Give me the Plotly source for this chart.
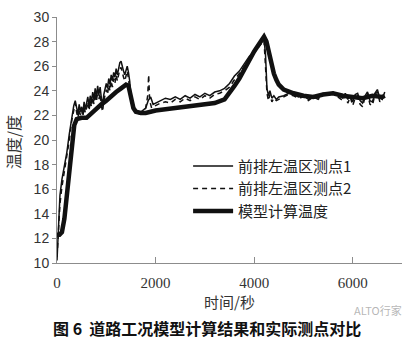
import plotly.graph_objects as go

# Measured point 1 (thin solid)
t_p1 = [0, 30, 60, 100, 150, 200, 250, 300, 340, 370,
        400, 425, 450, 475, 500, 525, 550, 575, 600, 625, 650, 675, 700, 725, 750, 775,
        800, 825, 850, 875, 900, 925, 950, 975, 1000, 1025, 1050, 1075, 1100, 1125, 1150,
        1175, 1200, 1225, 1250, 1275, 1300, 1325, 1350, 1375, 1400, 1425, 1450, 1475,
        1500, 1540, 1580, 1620, 1680, 1750, 1800, 1850, 1900, 1950, 2000, 2100, 2200,
        2300, 2400, 2500, 2600, 2700, 2800, 2900, 3000, 3100, 3200, 3300, 3400, 3500,
        3600, 3700, 3800, 3900, 4000, 4100, 4150, 4200, 4230, 4260, 4290, 4320, 4360,
        4400, 4450, 4500, 4600, 4700, 4800, 4900, 5000, 5100, 5200, 5300, 5400, 5500,
        5600, 5700, 5800, 5850, 5900, 5950, 6000, 6050, 6100, 6150, 6200, 6250, 6300,
        6350, 6400, 6450, 6500, 6550, 6600, 6650]
v_p1 = [10.2, 13.5, 15.5, 16.8, 17.8, 19.0, 20.5, 22.0, 22.8, 23.2,
        22.6, 22.1, 22.9, 22.3, 22.7, 22.2, 23.1, 22.5, 23.0, 23.5, 22.8, 23.6, 23.1, 23.9,
        23.3, 24.2, 23.5, 24.4, 23.7, 24.3, 23.4, 22.9, 23.7, 24.1, 24.6, 24.2, 25.0, 24.5,
        25.3, 24.8, 25.5, 25.1, 25.8, 25.3, 26.0, 26.3, 26.4, 25.9, 25.6, 25.3, 25.8, 26.0,
        25.5, 24.8, 23.6, 22.8, 22.5, 22.3, 22.2, 22.4, 22.6, 23.2, 23.5, 22.9, 23.0,
        23.2, 23.4, 23.3, 23.5, 23.3, 23.6, 23.4, 23.7, 23.5, 23.8, 23.6, 23.9, 24.0,
        24.2, 24.6, 25.2, 25.6, 26.2, 26.8, 27.2, 27.7, 28.0, 28.2, 27.0, 24.2, 23.6,
        24.0, 23.4, 23.6, 23.3, 23.5, 23.6, 23.8, 23.7, 23.5, 23.6, 23.3, 23.6, 23.4,
        23.8, 23.7, 23.9, 23.6, 23.4, 23.8, 23.3, 23.6, 23.1, 23.7, 23.8, 23.2, 23.0,
        23.6, 23.9, 23.2, 23.1, 23.8, 24.1, 23.4, 23.3, 23.9]

# Measured point 2 (thin dashed)
t_p2 = [0, 30, 60, 100, 150, 200, 250, 300, 340, 370,
        400, 425, 450, 475, 500, 525, 550, 575, 600, 625, 650, 675, 700, 725, 750, 775,
        800, 825, 850, 875, 900, 925, 950, 975, 1000, 1025, 1050, 1075, 1100, 1125, 1150,
        1175, 1200, 1225, 1250, 1275, 1300, 1325, 1350, 1375, 1400, 1425, 1450, 1475,
        1500, 1540, 1580, 1620, 1680, 1750, 1800, 1840, 1860, 1880, 1920, 2000, 2100,
        2200, 2300, 2400, 2500, 2600, 2700, 2800, 2900, 3000, 3100, 3200, 3300, 3400,
        3500, 3600, 3700, 3800, 3900, 4000, 4100, 4150, 4200, 4230, 4260, 4290, 4320,
        4360, 4400, 4450, 4500, 4600, 4700, 4800, 4900, 5000, 5100, 5200, 5300, 5400,
        5500, 5600, 5700, 5800, 5850, 5900, 5950, 6000, 6050, 6100, 6150, 6200, 6250,
        6300, 6350, 6400, 6450, 6500, 6550, 6600, 6650]
v_p2 = [10.5, 12.8, 14.8, 16.2, 17.4, 18.6, 20.0, 21.6, 22.4, 23.0,
        22.2, 21.8, 22.5, 22.0, 22.4, 21.9, 22.7, 22.2, 22.6, 23.1, 22.4, 23.2, 22.7, 23.5,
        22.9, 23.8, 23.1, 24.0, 23.3, 23.8, 22.8, 22.3, 23.2, 23.7, 24.1, 23.7, 24.5, 24.0,
        24.8, 24.3, 25.0, 24.6, 25.3, 24.8, 25.5, 25.8, 25.9, 25.4, 25.1, 24.8, 25.3, 25.6,
        25.0, 24.3, 23.2, 22.6, 22.3, 22.2, 22.1, 22.2, 22.6, 23.6, 25.3, 23.2, 22.6,
        22.8, 23.0, 23.1, 23.0, 23.3, 23.1, 23.4, 23.2, 23.5, 23.3, 23.6, 23.4, 23.7,
        23.8, 24.0, 24.3, 24.9, 25.4, 26.0, 26.6, 27.1, 27.6, 27.9, 28.1, 26.0, 23.8,
        23.2, 23.7, 23.1, 23.4, 23.2, 23.3, 23.5, 23.7, 23.6, 23.4, 23.5, 23.2, 23.5,
        23.3, 23.7, 23.6, 23.8, 23.5, 23.2, 23.6, 23.0, 23.5, 22.8, 23.4, 23.6, 22.9,
        22.7, 23.5, 23.8, 22.9, 22.8, 23.7, 23.9, 23.1, 23.6]

# Model calculated temperature (thick)
t_model = [0, 50, 100, 150, 200, 250, 300, 350, 400, 500, 600, 700, 800, 900, 1000, 1100,
           1200, 1300, 1400, 1450, 1500, 1550, 1600, 1700, 1800, 1900, 2000, 2200, 2400,
           2600, 2800, 3000, 3200, 3400, 3500, 3600, 3700, 3800, 3900, 4000, 4100, 4200,
           4250, 4300, 4350, 4400, 4450, 4500, 4600, 4700, 4800, 4900, 5000, 5200, 5400,
           5600, 5800, 6000, 6200, 6400, 6600, 6650]
v_model = [12.3, 12.3, 12.5, 13.6, 15.5, 17.6, 19.6, 21.2, 21.7, 21.8, 21.8, 22.2, 22.6,
           22.9, 23.2, 23.6, 23.9, 24.2, 24.5, 24.4, 23.3, 22.6, 22.3, 22.2, 22.2, 22.3,
           22.4, 22.5, 22.6, 22.7, 22.8, 22.9, 23.0, 23.3, 23.8, 24.4, 25.0, 25.8, 26.5,
           27.2, 27.8, 28.4, 28.0, 27.0, 26.1, 25.4, 24.9, 24.5, 24.1, 23.9, 23.8, 23.7,
           23.6, 23.5, 23.7, 23.8, 23.6, 23.5, 23.4, 23.6, 23.5, 23.6]

x_ticks = [0, 2000, 4000, 6000]
y_ticks = [10, 12, 14, 16, 18, 20, 22, 24, 26, 28, 30]

names = ["前排左温区测点1", "前排左温区测点2", "模型计算温度"]
ink = "#111111"
axis_grey = "#8c8c8c"

fig = go.Figure()
fig.add_trace(go.Scatter(x=t_model, y=v_model, mode="lines", name=names[2],
                         line=dict(color=ink, width=4.5), legendrank=3))
fig.add_trace(go.Scatter(x=t_p1, y=v_p1, mode="lines", name=names[0],
                         line=dict(color=ink, width=1.5), legendrank=1))
fig.add_trace(go.Scatter(x=t_p2, y=v_p2, mode="lines", name=names[1],
                         line=dict(color=ink, width=1.5, dash="5px,4px"), legendrank=2))

fig.update_layout(
    width=411, height=339,
    margin=dict(l=57, r=9, t=15, b=76),
    paper_bgcolor="white", plot_bgcolor="white",
    showlegend=True,
    legend=dict(x=0.38, y=0.46, xanchor="left", yanchor="top",
                bgcolor="rgba(0,0,0,0)", borderwidth=0,
                font=dict(family="Noto Sans CJK SC", size=15, color="#222222"),
                tracegroupgap=0, itemwidth=40),
    xaxis=dict(range=[0, 7000], tickvals=x_ticks, ticktext=[str(v) for v in x_ticks],
               showgrid=False, zeroline=False, showline=True, linecolor=axis_grey,
               linewidth=1, ticks="inside", ticklen=6, tickcolor=axis_grey,
               ticklabelstandoff=6,
               tickfont=dict(family="Liberation Serif", size=15, color="#333333")),
    yaxis=dict(range=[10, 30], tickvals=y_ticks, ticktext=[str(v) for v in y_ticks],
               showgrid=False, zeroline=False, showline=True, linecolor=axis_grey,
               linewidth=1, ticks="outside", ticklen=4, tickcolor=axis_grey,
               tickfont=dict(family="Liberation Sans", size=14, color="#333333")),
    annotations=[
        dict(text="时间/秒", xref="paper", yref="paper", x=0.50, y=-0.158,
             xanchor="center", yanchor="middle", showarrow=False,
             font=dict(family="Noto Sans CJK SC", size=15, color="#333333")),
        dict(text="温度/度", xref="paper", yref="paper", x=-0.125, y=0.49,
             xanchor="center", yanchor="middle", showarrow=False, textangle=-90,
             font=dict(family="Noto Sans CJK SC", size=16, color="#333333")),
        dict(text="图 6  道路工况模型计算结果和实际测点对比", xref="paper", yref="paper",
             x=0.435, y=-0.265, xanchor="center", yanchor="middle", showarrow=False,
             font=dict(family="Noto Sans CJK SC", size=16, color="#111111", weight="bold")),
        dict(text="ALTO行家", xref="paper", yref="paper", x=0.93, y=-0.19,
             xanchor="center", yanchor="middle", showarrow=False,
             font=dict(family="Noto Sans CJK SC", size=11, color="rgba(150,150,150,0.7)")),
    ],
)

fig.write_html("out.html")
